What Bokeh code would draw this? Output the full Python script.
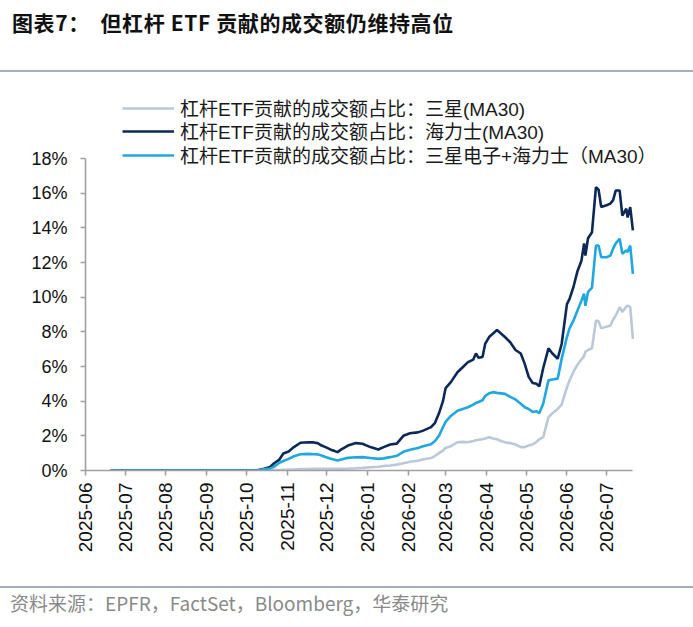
import math
import pandas as pd
from bokeh.plotting import figure
from bokeh.models import (Div, Legend, LegendItem, Range1d, MonthsTicker, FixedTicker,
                          DatetimeTickFormatter, PrintfTickFormatter, ColumnDataSource)
from bokeh.layouts import column
from bokeh.embed import file_html
from bokeh.resources import INLINE

# dates of the readings (MA30 series)
dates = ["2025-06-20", "2025-07-15", "2025-08-15", "2025-09-15", "2025-10-08",
         "2025-10-12", "2025-10-15", "2025-10-19", "2025-10-22", "2025-10-26",
         "2025-10-29", "2025-11-02", "2025-11-06", "2025-11-11", "2025-11-17",
         "2025-11-21", "2025-11-24", "2025-11-27", "2025-11-30", "2025-12-04",
         "2025-12-07", "2025-12-09", "2025-12-12", "2025-12-17", "2025-12-23",
         "2025-12-28", "2026-01-03", "2026-01-09", "2026-01-13", "2026-01-18",
         "2026-01-23", "2026-01-28", "2026-02-02", "2026-02-08", "2026-02-12",
         "2026-02-18", "2026-02-21", "2026-02-24", "2026-02-27", "2026-03-01",
         "2026-03-05", "2026-03-10", "2026-03-14", "2026-03-18", "2026-03-22",
         "2026-03-24", "2026-03-26", "2026-03-29", "2026-03-31", "2026-04-03",
         "2026-04-06", "2026-04-09", "2026-04-12", "2026-04-15", "2026-04-19",
         "2026-04-23", "2026-04-27", "2026-04-30", "2026-05-03", "2026-05-06",
         "2026-05-09", "2026-05-11", "2026-05-14", "2026-05-18", "2026-05-21",
         "2026-05-25", "2026-05-28", "2026-06-01", "2026-06-03", "2026-06-06",
         "2026-06-09", "2026-06-12", "2026-06-14", "2026-06-15", "2026-06-17",
         "2026-06-20", "2026-06-23", "2026-06-25", "2026-06-27", "2026-07-01",
         "2026-07-04", "2026-07-06", "2026-07-08", "2026-07-11", "2026-07-13",
         "2026-07-16", "2026-07-17", "2026-07-19", "2026-07-21"]

# share of turnover from leveraged ETFs, %
samsung = [0, 0, 0, 0, 0,
           0, 0.01, 0.02, 0.02, 0.03,
           0.04, 0.05, 0.06, 0.08, 0.09,
           0.1, 0.1, 0.1, 0.1, 0.1,
           0.1, 0.1, 0.1, 0.11, 0.13,
           0.15, 0.19, 0.22, 0.26, 0.29,
           0.34, 0.42, 0.5, 0.56, 0.65,
           0.72, 0.85, 1.0, 1.15, 1.3,
           1.4, 1.63, 1.65, 1.63, 1.7,
           1.75, 1.77, 1.8, 1.85, 1.92,
           1.85, 1.8, 1.7, 1.63, 1.58,
           1.5, 1.35, 1.35, 1.45, 1.5,
           1.65, 1.8, 1.92, 3.08, 3.3,
           3.55, 3.8, 4.8, 5.2, 5.7,
           6.1, 6.4, 6.6, 6.85, 6.95,
           7.05, 8.66, 8.6, 8.2, 8.3,
           8.37, 8.7, 8.94, 9.42, 9.15,
           9.45, 9.52, 9.42, 7.6]

hynix = [0, 0, 0, 0, 0,
         0.05, 0.12, 0.2, 0.42, 0.63,
         0.98, 1.1, 1.35, 1.6, 1.63,
         1.62, 1.58, 1.44, 1.35, 1.2,
         1.12, 1.06, 1.22, 1.44, 1.58,
         1.54, 1.35, 1.21, 1.35, 1.5,
         1.55, 2.0, 2.15, 2.2, 2.3,
         2.5, 2.75, 3.3, 4.0, 4.75,
         5.1, 5.67, 5.96, 6.25, 6.4,
         6.75, 6.5, 6.55, 7.3, 7.7,
         7.9, 8.1, 7.9, 7.7, 7.4,
         6.95, 6.75, 6.15, 5.4, 5.05,
         5.0, 4.85, 5.9, 7.05, 6.75,
         6.45, 7.3, 9.6, 9.9, 10.6,
         11.5, 12.1, 13.1, 12.4, 13.4,
         13.75, 16.35, 16.2, 15.2, 15.3,
         15.4, 15.6, 16.15, 16.15, 14.7,
         15.1, 14.6, 15.2, 13.85]

combined = [0, 0, 0, 0, 0,
            0.03, 0.08, 0.12, 0.22, 0.45,
            0.55, 0.67, 0.82, 0.94, 0.96,
            0.94, 0.93, 0.86, 0.78, 0.68,
            0.62, 0.58, 0.64, 0.73, 0.76,
            0.77, 0.72, 0.67, 0.7, 0.77,
            0.85, 1.08, 1.2, 1.3, 1.4,
            1.52, 1.7, 2.0, 2.5, 2.8,
            3.15, 3.45, 3.55, 3.65, 3.8,
            3.9, 3.95, 4.05, 4.3, 4.45,
            4.52, 4.48, 4.45, 4.42, 4.25,
            4.1, 3.85, 3.65, 3.55, 3.38,
            3.42, 3.3, 3.85, 5.2, 5.25,
            5.3, 6.44, 7.7, 8.2, 8.66,
            9.23, 9.8, 10.2, 9.5, 10.3,
            10.55, 12.98, 12.98, 12.3, 12.3,
            12.4, 12.8, 13.1, 13.37, 12.5,
            12.7, 12.6, 12.98, 11.35]

y_ticks = [0, 2, 4, 6, 8, 10, 12, 14, 16, 18]

labels = ["杠杆ETF贡献的成交额占比：三星(MA30)",
          "杠杆ETF贡献的成交额占比：海力士(MA30)",
          "杠杆ETF贡献的成交额占比：三星电子+海力士（MA30）"]

source = ColumnDataSource(dict(date=pd.to_datetime(dates), samsung=samsung,
                               hynix=hynix, combined=combined))

# axis covers 2025-06-01 .. 2026-07-21 and 0..18%; the frame is larger so the legend fits inside it
x_start = pd.Timestamp("2025-06-01")
x_end = pd.Timestamp("2026-07-21")
px_per_day = 521 / 395
p = figure(width=693, height=506, x_axis_type="datetime",
           x_range=Range1d(x_start, x_start + pd.Timedelta(days=600 / px_per_day)),
           y_range=Range1d(0, 392 / (312 / 18)),
           output_backend="svg", toolbar_location=None,
           min_border_left=85, min_border_right=8, min_border_top=4, min_border_bottom=110)
p.margin = 0
p.outline_line_color = None
p.grid.visible = False

r_s = p.line("date", "samsung", source=source, line_color="#BAC8DA", line_width=2.6)
r_h = p.line("date", "hynix", source=source, line_color="#0C2859", line_width=2.6)
r_c = p.line("date", "combined", source=source, line_color="#1FA8DF", line_width=2.6)

# one legend per row so the rows sit closer than the font's line box
for label, rend, y in zip(labels, (r_s, r_h, r_c), (349, 326, 302)):
    lg = Legend(items=[LegendItem(label=label, renderers=[rend])],
                location=(37, y), orientation="vertical", padding=0, margin=0, spacing=0,
                glyph_width=52, glyph_height=16, label_height=16, label_standoff=6,
                label_text_font="Liberation Sans, Noto Sans CJK SC", label_text_font_size="19px",
                label_text_color="#1a1a1a", border_line_color=None, background_fill_alpha=0)
    p.add_layout(lg)

for ax in (p.xaxis[0], p.yaxis[0]):
    ax.axis_line_color = "#A0A0A0"
    ax.axis_line_width = 1.6
    ax.major_tick_line_color = "#A0A0A0"
    ax.major_tick_line_width = 1.6
    ax.major_tick_in = 0
    ax.major_tick_out = 5
    ax.minor_tick_line_color = None
    ax.major_label_text_font = "Liberation Sans"
    ax.major_label_text_color = "#111111"

p.xaxis.bounds = (x_start, x_end)
p.xaxis.ticker = MonthsTicker(months=list(range(1, 13)))
p.xaxis.formatter = DatetimeTickFormatter(days="%Y-%m", months="%Y-%m", years="%Y-%m")
p.xaxis.major_label_orientation = math.pi / 2
p.xaxis.major_label_text_font_size = "19px"
p.xaxis.major_label_standoff = 7

p.yaxis.bounds = (0, 18)
p.yaxis.ticker = FixedTicker(ticks=y_ticks)
p.yaxis.formatter = PrintfTickFormatter(format="%d%%")
p.yaxis.major_label_text_font_size = "18px"
p.yaxis.major_label_standoff = 13

title = Div(text=('<div style="width:693px;height:72px;border-bottom:2px solid #A3ACC0;'
                  'box-sizing:border-box;padding:9px 0 0 12px;font-family:\'Noto Sans CJK SC\';'
                  'font-weight:bold;font-size:21px;letter-spacing:0.6px;line-height:26px;'
                  'color:#111;white-space:pre">'
                  '图表7：  但杠杆 ETF 贡献的成交额仍维持高位</div>'),
            width=693, height=74, margin=0)

note = Div(text=('<div style="width:693px;margin-top:6px;border-top:2px solid #A3ACC0;'
                 'padding:4px 0 0 10px;font-family:\'Noto Sans CJK SC\';font-size:19px;'
                 'line-height:22px;color:#8a8a8a;white-space:pre">'
                 '资料来源：EPFR，FactSet，Bloomberg，华泰研究</div>'),
           width=693, height=34, margin=0)

layout = column(title, p, note, spacing=0)

open("out.html", "w").write(file_html(layout, INLINE))
